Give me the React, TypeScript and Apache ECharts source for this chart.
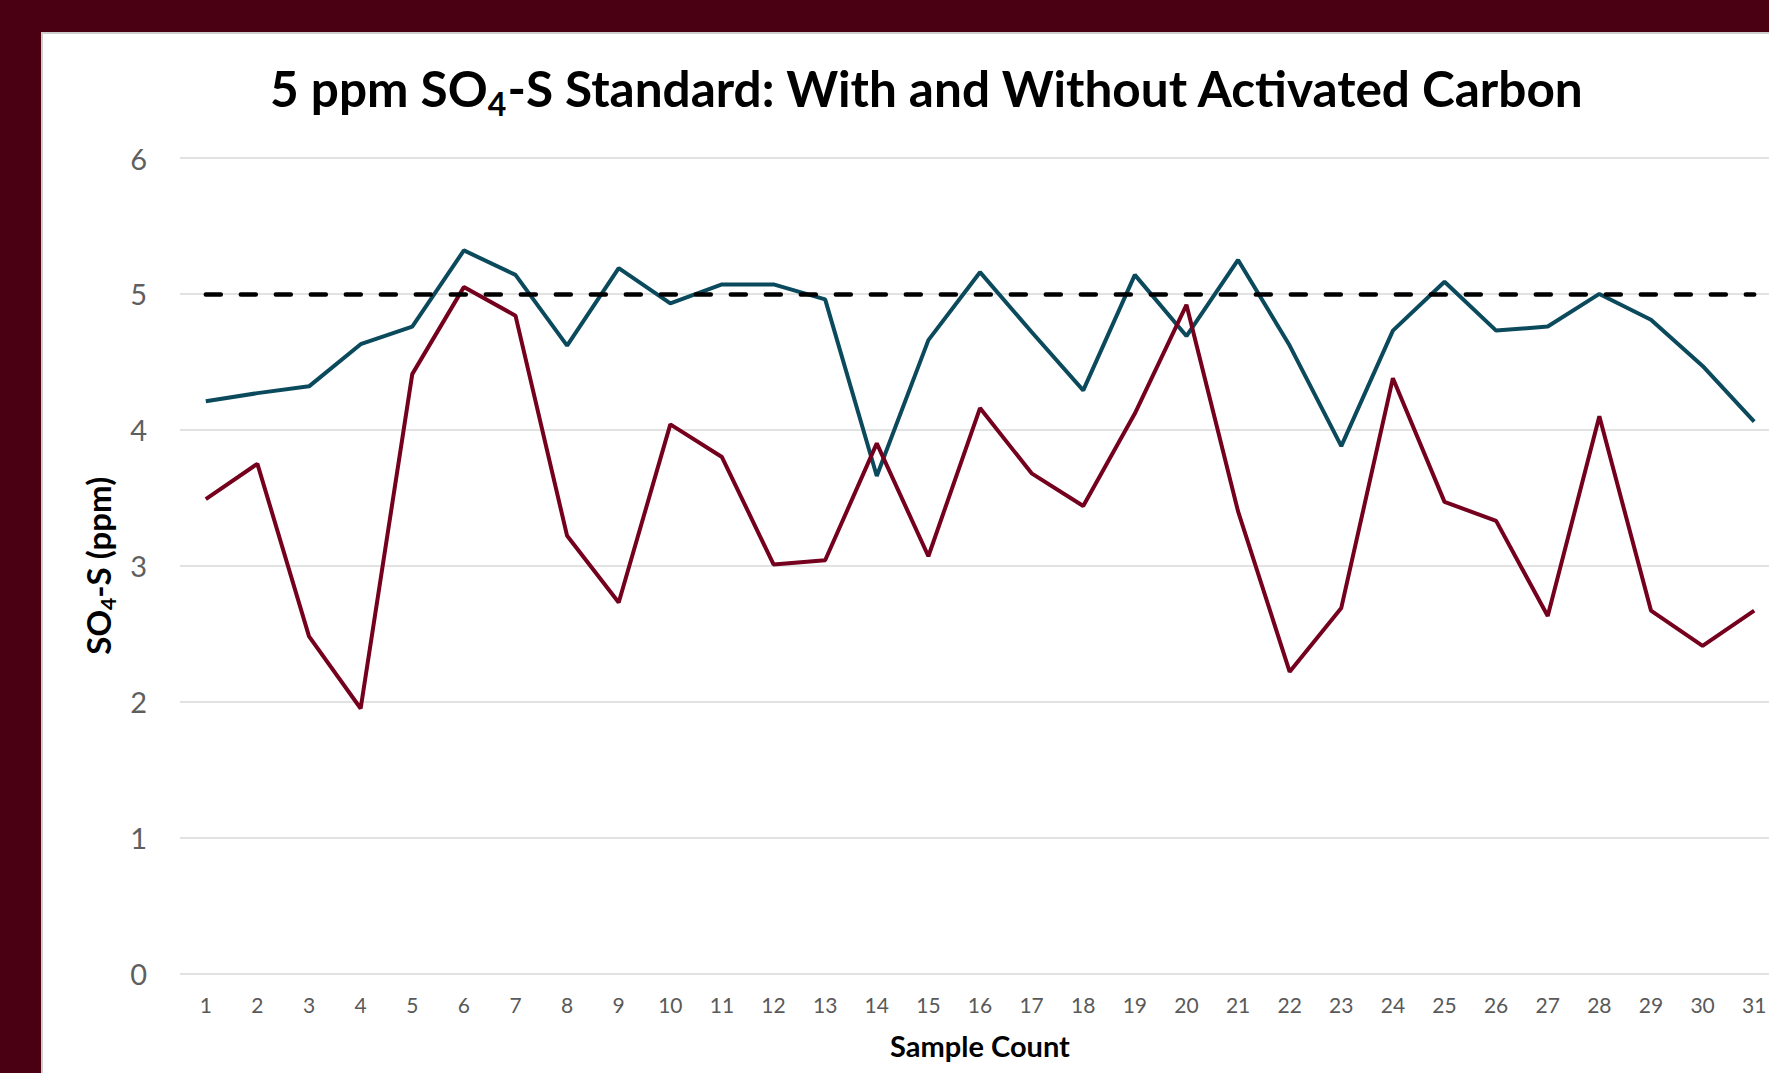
import React, { useEffect, useRef } from "react";
import * as echarts from "echarts";

const sampleCount: string[] = [
  "1","2","3","4","5","6","7","8","9","10","11","12","13","14","15","16",
  "17","18","19","20","21","22","23","24","25","26","27","28","29","30","31",
];

const withoutCarbon: number[] = [
  4.21, 4.27, 4.32, 4.63, 4.76, 5.32, 5.14, 4.62, 5.19, 4.93, 5.07, 5.07, 4.96, 3.66, 4.66,
  5.16, 4.72, 4.29, 5.14, 4.69, 5.25, 4.62, 3.88, 4.73, 5.09, 4.73, 4.76, 5.0, 4.81, 4.47, 4.06,
];

const withCarbon: number[] = [
  3.49, 3.75, 2.48, 1.95, 4.41, 5.05, 4.84, 3.22, 2.73, 4.04, 3.8, 3.01, 3.04, 3.9, 3.07,
  4.16, 3.68, 3.44, 4.12, 4.92, 3.4, 2.22, 2.69, 4.38, 3.47, 3.33, 2.63, 4.1, 2.67, 2.41, 2.67,
];

const standardValue = 5;
const yTicks = { min: 0, max: 6, interval: 1 };

const FONT = "Lato, 'Open Sans', sans-serif";

export default function App() {
  const ref = useRef<HTMLDivElement>(null);
  useEffect(() => {
    if (!ref.current) return;
    const chart = echarts.init(ref.current, null, { renderer: "svg" });
    chart.setOption({
      animation: false,
      backgroundColor: "#4a0012",
      graphic: [
        {
          type: "rect",
          z: -10,
          silent: true,
          shape: { x: 42, y: 33, width: 1760, height: 1100 },
          style: { fill: "#ffffff", stroke: "#cfcfcf", lineWidth: 2 },
        },
        {
          type: "text",
          x: 927,
          y: 88,
          z: 10,
          style: {
            text: "{b|5 ppm SO}{s|4}{b|-S Standard: With and Without Activated Carbon}",
            align: "center",
            verticalAlign: "middle",
            rich: {
              b: {
                fontFamily: FONT,
                fontWeight: "bold",
                fontSize: 49.5,
                lineHeight: 62,
                fill: "#000000",
                color: "#000000",
              },
              s: {
                fontFamily: FONT,
                fontWeight: "bold",
                fontSize: 32,
                lineHeight: 35,
                verticalAlign: "bottom",
                fill: "#000000",
                color: "#000000",
              },
            },
          },
        },
      ],
      grid: {
        left: 180,
        top: 158,
        width: 1600,
        height: 815.5,
        containLabel: false,
        outerBoundsMode: "none",
      },
      xAxis: {
        type: "category",
        data: sampleCount,
        boundaryGap: true,
        axisLine: { show: false },
        axisTick: { show: false },
        axisLabel: {
          color: "#595959",
          fontFamily: FONT,
          fontSize: 21,
          margin: 20,
          interval: 0,
        },
        name: "Sample Count",
        nameLocation: "middle",
        nameGap: 57,
        nameTextStyle: {
          fontFamily: FONT,
          fontWeight: "bold",
          fontSize: 29,
          color: "#000000",
        },
      },
      yAxis: {
        type: "value",
        min: yTicks.min,
        max: yTicks.max,
        interval: yTicks.interval,
        axisLine: { show: false },
        axisTick: { show: false },
        splitLine: { lineStyle: { color: "#d9d9d9", width: 1.5 } },
        axisLabel: {
          color: "#5f5f5f",
          fontFamily: FONT,
          fontSize: 29,
          margin: 33,
        },
        name: "{b|SO}{s|4}{b|-S (ppm)}",
        nameLocation: "middle",
        nameGap: 62,
        nameTextStyle: {
          rich: {
            b: {
              fontFamily: FONT,
              fontWeight: "bold",
              fontSize: 33,
              lineHeight: 40,
              color: "#000000",
            },
            s: {
              fontFamily: FONT,
              fontWeight: "bold",
              fontSize: 21,
              lineHeight: 25,
              verticalAlign: "bottom",
              color: "#000000",
            },
          },
        },
      },
      series: [
        {
          name: "Without Activated Carbon",
          type: "line",
          data: withoutCarbon,
          symbol: "none",
          lineStyle: { color: "#0b4a5c", width: 4 },
          itemStyle: { color: "#0b4a5c" },
          z: 3,
        },
        {
          name: "With Activated Carbon",
          type: "line",
          data: withCarbon,
          symbol: "none",
          lineStyle: { color: "#74001e", width: 4 },
          itemStyle: { color: "#74001e" },
          z: 3,
          markLine: {
            silent: true,
            symbol: "none",
            label: { show: false },
            lineStyle: { color: "#000000", width: 4.5, type: [15, 20], cap: "round" },
            data: [
              [
                { coord: [sampleCount[0], standardValue] },
                { coord: [sampleCount[sampleCount.length - 1], standardValue] },
              ],
            ],
            z: 5,
          },
        },
      ],
    });
    return () => chart.dispose();
  }, []);
  return (
    <div
      ref={ref}
      style={{ position: "fixed", left: 0, top: 0, width: 1769, height: 1073 }}
    />
  );
}
